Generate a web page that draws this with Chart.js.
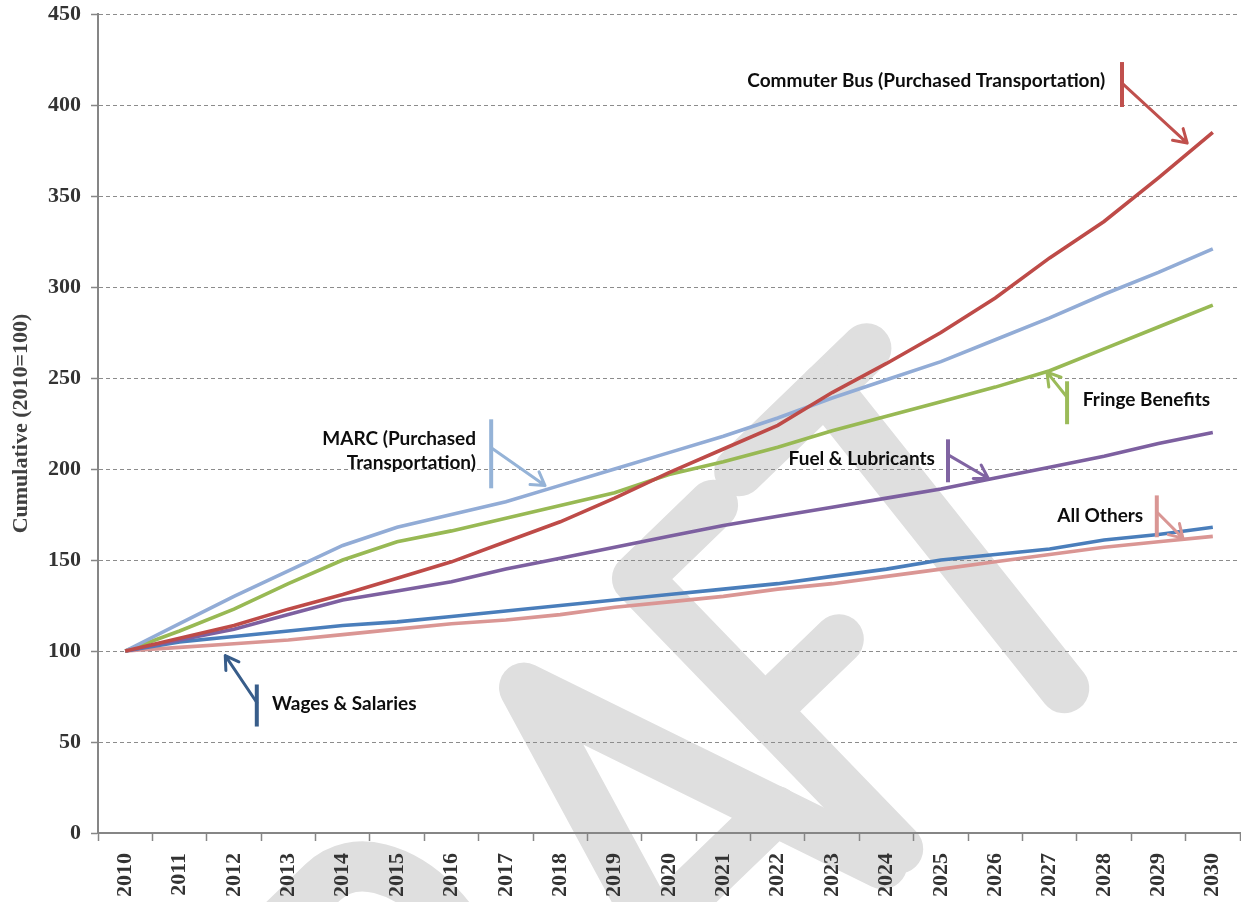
<!DOCTYPE html>
<html>
<head>
<meta charset="utf-8">
<script src="https://cdn.jsdelivr.net/npm/chart.js@4.4.1/dist/chart.umd.min.js"></script>
<style>
  html, body { margin: 0; padding: 0; background: #ffffff; }
  #wrap { width: 1241px; height: 902px; }
</style>
</head>
<body>
<div id="wrap"><canvas id="costChart" width="1241" height="902"></canvas></div>
<script>
// categories
const years = ['2010', '2011', '2012', '2013', '2014', '2015', '2016', '2017', '2018', '2019', '2020',
               '2021', '2022', '2023', '2024', '2025', '2026', '2027', '2028', '2029', '2030'];

// cumulative index, 2010 = 100
const commuterBus    = [100, 107, 114, 123, 131, 140, 149, 160, 171, 184, 198, 211, 224, 242, 258, 275, 294, 316, 336, 360, 385];
const marc           = [100, 115, 130, 144, 158, 168, 175, 182, 191, 200, 209, 218, 228, 239, 249, 259, 271, 283, 296, 308, 321];
const fringeBenefits = [100, 111, 123, 137, 150, 160, 166, 173, 180, 187, 197, 204, 212, 221, 229, 237, 245, 254, 266, 278, 290];
const fuelLubricants = [100, 106, 112, 120, 128, 133, 138, 145, 151, 157, 163, 169, 174, 179, 184, 189, 195, 201, 207, 214, 220];
const wagesSalaries  = [100, 105, 108, 111, 114, 116, 119, 122, 125, 128, 131, 134, 137, 141, 145, 150, 153, 156, 161, 164, 168];
const allOthers      = [100, 102, 104, 106, 109, 112, 115, 117, 120, 124, 127, 130, 134, 137, 141, 145, 149, 153, 157, 160, 163];

// y axis
const yMin = 0, yMax = 450, yStep = 50;

// callouts, placed in data units (x = category index, y = index value)
const notes = [
  { lines: ['Commuter Bus (Purchased Transportation)'], text: [18.02, [413.1]], align: 'right',
    color: '#c0504d', bar: [18.33, 423.6, 398.9], from: [18.33, 412.0], to: [19.53, 379.1] },
  { lines: ['MARC (Purchased', 'Transportation)'], text: [6.45, [216.3, 203.1]], align: 'right',
    color: '#95b3d7', bar: [6.73, 227.3, 189.4], from: [6.75, 211.3], to: [7.72, 190.9] },
  { lines: ['Fringe Benefits'], text: [17.61, [237.8]], align: 'left',
    color: '#9bbb59', bar: [17.32, 248.2, 224.6], from: [17.32, 239.4], to: [16.95, 253.2] },
  { lines: ['Fuel & Lubricants'], text: [14.89, [205.3]], align: 'right',
    color: '#8064a2', bar: [15.13, 216.3, 192.7], from: [15.15, 207.5], to: [15.87, 194.9] },
  { lines: ['All Others'], text: [18.72, [174.0]], align: 'right',
    color: '#d99694', bar: [18.97, 185.5, 162.5], from: [18.99, 175.8], to: [19.45, 162.0] },
  { lines: ['Wages & Salaries'], text: [2.70, [71.2]], align: 'left',
    color: '#385d8a', bar: [2.42, 81.6, 58.5], from: [2.42, 71.7], to: [1.84, 97.5] }
];

const tickFont = { family: 'Liberation Serif', weight: 'bold', size: 22 };

// grey "DRAFT" stamp behind everything (stroke letters, tilted)
const watermark = {
  id: 'watermark',
  beforeDraw(chart) {
    const ctx = chart.ctx;
    const strokes = [
      // R
      [[-560, 22], [-560, 398]],
      [[-560, 22], [-425, 22], ['c', -335, 22, -335, 215, -425, 215], [-560, 215]],
      [[-445, 215], [-325, 398]],
      // A
      [[-250, 398], [-145, 22], [-10, 398]],
      [[-215, 285], [-50, 285]],
      // F
      [[12, 398], [12, 22], [118, 22]],
      [[12, 206], [115, 206]],
      // T
      [[160, 16], [337, 16]],
      [[280, 16], [243, 398]]
    ];
    ctx.save();
    ctx.translate(613, 571);
    ctx.transform(0.719, -0.695, 0.695, 0.719, 0, 0);
    ctx.strokeStyle = '#dfdfdf';
    ctx.lineWidth = 50;
    ctx.lineCap = 'round';
    ctx.lineJoin = 'round';
    strokes.forEach(s => {
      ctx.beginPath();
      ctx.moveTo(s[0][0], s[0][1]);
      s.slice(1).forEach(p => {
        if (p[0] === 'c') ctx.bezierCurveTo(p[1], p[2], p[3], p[4], p[5], p[6]);
        else ctx.lineTo(p[0], p[1]);
      });
      ctx.stroke();
    });
    ctx.restore();
  }
};

const callouts = {
  id: 'callouts',
  afterDatasetsDraw(chart) {
    const { ctx, scales: { x, y } } = chart;
    notes.forEach(n => {
      ctx.save();
      ctx.strokeStyle = n.color;
      // upright bar
      const bx = x.getPixelForValue(n.bar[0]);
      ctx.lineWidth = 4;
      ctx.beginPath();
      ctx.moveTo(bx, y.getPixelForValue(n.bar[1]));
      ctx.lineTo(bx, y.getPixelForValue(n.bar[2]));
      ctx.stroke();
      // arrow
      const x1 = x.getPixelForValue(n.from[0]), y1 = y.getPixelForValue(n.from[1]);
      const x2 = x.getPixelForValue(n.to[0]), y2 = y.getPixelForValue(n.to[1]);
      const ang = Math.atan2(y2 - y1, x2 - x1);
      const head = 15;
      ctx.lineWidth = 3;
      ctx.lineCap = 'round';
      ctx.lineJoin = 'round';
      ctx.beginPath();
      ctx.moveTo(x1, y1);
      ctx.lineTo(x2, y2);
      ctx.moveTo(x2 - head * Math.cos(ang - 0.55), y2 - head * Math.sin(ang - 0.55));
      ctx.lineTo(x2, y2);
      ctx.lineTo(x2 - head * Math.cos(ang + 0.55), y2 - head * Math.sin(ang + 0.55));
      ctx.stroke();
      // label
      ctx.fillStyle = '#0d0d0d';
      ctx.font = 'bold 19px Lato';
      ctx.textAlign = n.align;
      ctx.textBaseline = 'middle';
      const tx = x.getPixelForValue(n.text[0]);
      n.lines.forEach((t, i) => ctx.fillText(t, tx, y.getPixelForValue(n.text[1][i])));
      ctx.restore();
    });
  }
};

const line = (label, data, color) => ({
  label, data, borderColor: color, backgroundColor: color,
  borderWidth: 3.6, pointRadius: 0, tension: 0, fill: false
});

new Chart(document.getElementById('costChart').getContext('2d'), {
  type: 'line',
  data: {
    labels: years,
    datasets: [
      line('Commuter Bus (Purchased Transportation)', commuterBus, '#be4b48'),
      line('MARC (Purchased Transportation)', marc, '#92acd6'),
      line('Fringe Benefits', fringeBenefits, '#98b954'),
      line('Fuel & Lubricants', fuelLubricants, '#7d60a0'),
      line('Wages & Salaries', wagesSalaries, '#4a7ebb'),
      line('All Others', allOthers, '#da9694')
    ]
  },
  options: {
    responsive: false,
    animation: false,
    layout: { padding: { top: 14, right: 1, left: 0, bottom: 0 } },
    plugins: { legend: { display: false }, tooltip: { enabled: false } },
    scales: {
      x: {
        offset: true,
        grid: { offset: true, drawOnChartArea: false, drawTicks: true, tickLength: 8,
                tickColor: '#868686', tickWidth: 1.5 },
        border: { color: '#868686', width: 2 },
        ticks: { autoSkip: false, minRotation: 90, maxRotation: 90, padding: 12,
                 color: '#333333', font: tickFont },
        afterFit(s) { s.height = 69; s.paddingLeft = 0; s.paddingRight = 0; }
      },
      y: {
        min: yMin, max: yMax,
        ticks: { stepSize: yStep, padding: 10, color: '#333333', font: tickFont },
        grid: { color: '#8c8c8c', lineWidth: 1, tickLength: 7, tickColor: '#868686', tickWidth: 1.5 },
        border: { color: '#868686', width: 2, dash: [4, 3] },
        title: { display: true, text: 'Cumulative (2010=100)', color: '#404040',
                 font: { family: 'Liberation Serif', weight: 'bold', size: 22 },
                 padding: { top: 8, bottom: 0 } },
        afterFit(s) { s.width = 98; s.paddingTop = 0; s.paddingBottom = 0; }
      }
    }
  },
  plugins: [watermark, callouts]
});
</script>
</body>
</html>
